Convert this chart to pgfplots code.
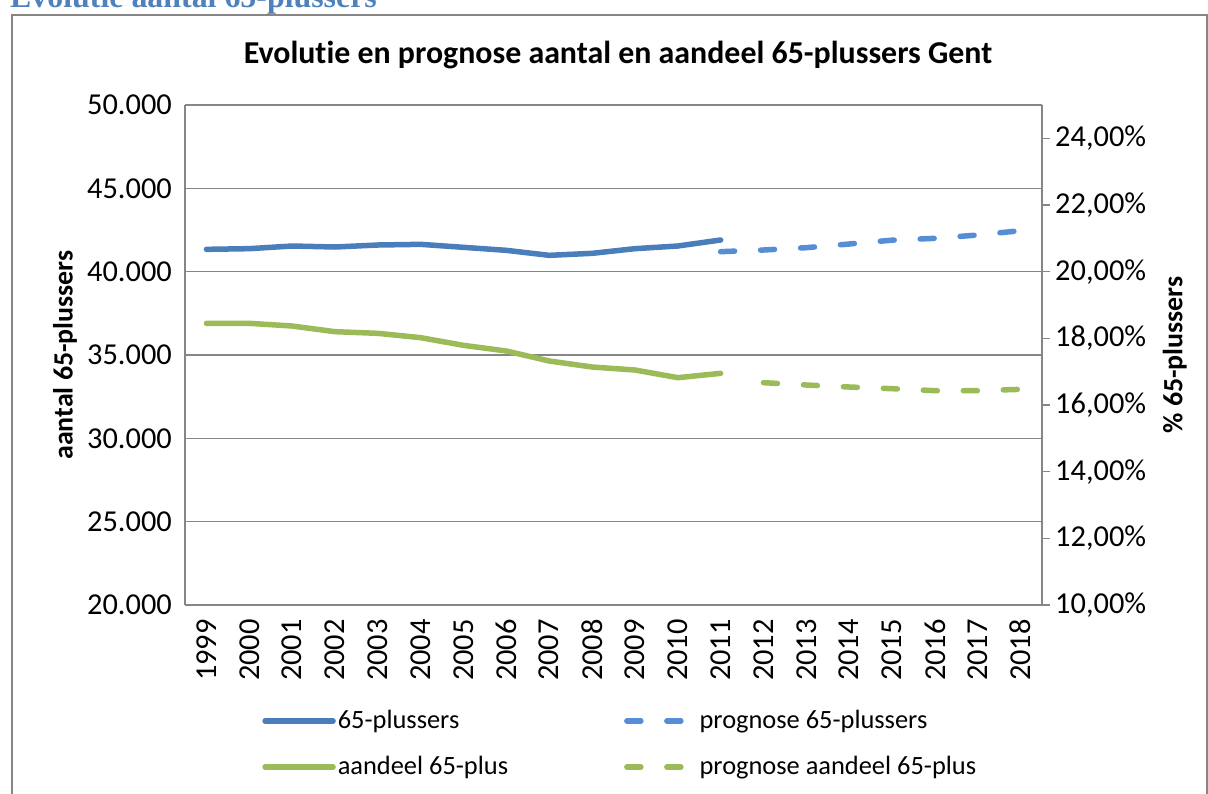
\documentclass[border=0pt]{standalone}
\usepackage{fontspec}
\setmainfont{Carlito}[Ligatures=NoCommon]
\newfontfamily\headfont{Liberation Serif}
\usepackage{pgfplots}
\pgfplotsset{compat=1.18}
\definecolor{blueA}{HTML}{4A7EBB}
\definecolor{blueB}{HTML}{558ED5}
\definecolor{greenA}{HTML}{9BBB59}
\definecolor{gridgray}{HTML}{868686}
\definecolor{headblue}{HTML}{4F81BD}

\begin{document}
\fontsize{26.5}{31}\selectfont
\begin{tikzpicture}[x=1bp,y=1bp]
\clip (0,0) rectangle (1208,-794);
\path (0,0) rectangle (1208,-794);
\draw[gridgray, line width=1.5bp] (12,-815) -- (12,-15) -- (1207,-15) -- (1207,-815);
\node[anchor=base west, text=headblue, font=\headfont\bfseries\fontsize{32}{36}\selectfont, inner sep=0pt] at (10,-8) {Evolutie aantal 65-plussers};
\node[font=\bfseries\fontsize{32}{38}\selectfont] at (618,-55) {Evolutie en prognose aantal en aandeel 65-plussers Gent};

\begin{axis}[
  at={(185bp,-605bp)}, anchor=south west,
  width=857bp, height=500bp, scale only axis,
  xmin=-0.5, xmax=19.5, ymin=20000, ymax=50000,
  scaled y ticks=false,
  tick label style={font=\fontsize{30.5}{36}\selectfont},
  xtick={0,...,19},
  xticklabels={1999,2000,2001,2002,2003,2004,2005,2006,2007,2008,2009,2010,2011,2012,2013,2014,2015,2016,2017,2018},
  xticklabel style={rotate=90, anchor=east, inner sep=0pt},
  xticklabel shift=14bp,
  ytick={20000,25000,...,50000},
  yticklabels={20.000,25.000,30.000,35.000,40.000,45.000,50.000},
  yticklabel style={anchor=east, inner sep=0pt},
  yticklabel shift=13bp,
  major tick length=0pt,
  ymajorgrids,
  grid style={gridgray, line width=1.5bp},
  axis line style={gridgray, line width=1.5bp},
  axis y line*=left,
  ylabel={aantal 65-plussers},
  ylabel style={font=\bfseries\fontsize{28}{32}\selectfont, at={(axis description cs:-0.14,0.5)}, anchor=center},
  clip=false,
]
\addplot[blueA, line width=5.5bp, line cap=round, line join=round] coordinates {
(0,41340) (1,41380) (2,41540) (3,41480) (4,41600) (5,41640) (6,41460) (7,41280) (8,40980) (9,41100) (10,41380) (11,41540) (12,41900)};
\addplot[blueB, line width=5.5bp, line cap=round, dash pattern=on 14bp off 26bp] coordinates {
(12,41200) (13,41300) (14,41440) (15,41660) (16,41890) (17,42000) (18,42200) (19,42460)};
\end{axis}

\begin{axis}[
  at={(185bp,-605bp)}, anchor=south west,
  width=857bp, height=500bp, scale only axis,
  xmin=-0.5, xmax=19.5, ymin=10, ymax=25,
  axis x line=none,
  axis y line*=right,
  tick label style={font=\fontsize{30.5}{36}\selectfont},
  ytick={10,12,...,24},
  yticklabels={{10,00\%},{12,00\%},{14,00\%},{16,00\%},{18,00\%},{20,00\%},{22,00\%},{24,00\%}},
  yticklabel style={anchor=west, inner sep=0pt},
  yticklabel shift=5bp,
  tick align=outside,
  major tick length=8bp,
  ytick style={gridgray, line width=1.5bp},
  axis line style={gridgray, line width=1.5bp},
  ylabel={\% 65-plussers},
  ylabel style={font=\bfseries\fontsize{28}{32}\selectfont, at={(axis description cs:1.155,0.5)}, anchor=center},
  clip=false,
  legend columns=2,
  legend cell align=left,
  legend image code/.code={\draw[#1] (0bp,0bp) -- (68bp,0bp);},
  legend style={draw=none, fill=none, at={(axis description cs:0.09,-0.205)}, anchor=north west,
    inner sep=0pt, row sep=20bp, font=\fontsize{26.5}{31}\selectfont,
    /tikz/every even column/.append style={column sep=114bp}},
]
\addlegendimage{blueA, line width=5.5bp, line cap=round}
\addlegendentry{65-plussers}
\addlegendimage{blueB, line width=5.5bp, line cap=round, dash pattern=on 14bp off 26bp}
\addlegendentry{prognose 65-plussers}
\addplot[greenA, line width=5.5bp, line cap=round, line join=round] coordinates {
(0,18.45) (1,18.45) (2,18.37) (3,18.20) (4,18.15) (5,18.02) (6,17.79) (7,17.62) (8,17.32) (9,17.14) (10,17.05) (11,16.82) (12,16.95)};
\addlegendentry{aandeel 65-plus}
\addplot[greenA, line width=5.5bp, line cap=round, dash pattern=on 14bp off 26bp] coordinates {
(13,16.67) (14,16.60) (15,16.54) (16,16.49) (17,16.43) (18,16.43) (19,16.47)};
\addlegendentry{prognose aandeel 65-plus}
\end{axis}
\end{tikzpicture}
\end{document}
